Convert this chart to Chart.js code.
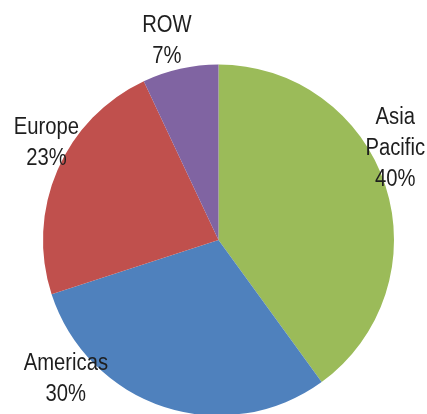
<!DOCTYPE html>
<html>
<head>
<meta charset="utf-8">
<script src="https://cdn.jsdelivr.net/npm/chart.js@4"></script>
<style>
  html, body { margin: 0; padding: 0; background: #fff; overflow: hidden; }
  #wrap { width: 427px; height: 430px; position: relative; }
</style>
</head>
<body>
<div id="wrap"><canvas id="chart-region"></canvas></div>
<script>
var regions = ["Asia\nPacific", "Americas", "Europe", "ROW"]
var share = [40, 30, 23, 7]
var colours = ["#9BBB59", "#4F81BD", "#C0504D", "#8064A2"]

// nudges for each label, away from the slice's mid-angle anchor
var labelNudge = [[-13, -30], [-91, -51], [11, -18], [-8, -4]]

// draws "Name\nNN%" outside each slice
var sliceLabels = {
	id: "sliceLabels",
	afterDatasetsDraw: function(chart) {
		var ctx = chart.ctx;
		var meta = chart.getDatasetMeta(0);
		ctx.save();
		ctx.fillStyle = "#1e1e1e";
		ctx.font = "23px 'Liberation Sans', Arial, sans-serif";
		ctx.textAlign = "center";
		ctx.textBaseline = "middle";
		meta.data.forEach(function(arc, i) {
			var p = arc.getProps(["x", "y", "startAngle", "endAngle", "outerRadius"], true);
			var mid = (p.startAngle + p.endAngle) / 2;
			var d = p.outerRadius + 24;
			var cx = p.x + Math.cos(mid) * d + labelNudge[i][0];
			var cy = p.y + Math.sin(mid) * d + labelNudge[i][1];
			var lines = regions[i].split("\n").concat([share[i] + "%"]);
			var step = 31;
			var top = cy - (lines.length - 1) * step / 2;
			lines.forEach(function(line, j) {
				ctx.save();
				ctx.translate(cx, top + j * step);
				ctx.scale(0.88, 1);
				ctx.fillText(line, 0, 0);
				ctx.restore();
			});
		});
		ctx.restore();
	}
};

var ctxRegion = document.getElementById("chart-region").getContext("2d");
var chartRegion = new Chart(ctxRegion, {
	type: "pie",
	data: {
		labels: regions,
		datasets: [
		{
			data: share,
			backgroundColor: colours,
			borderWidth: 0
		}
		]
	},
	options: {
		responsive: true,
		maintainAspectRatio: false,
		animation: false,
		layout: {
			padding: { left: 43, right: 33, top: 64, bottom: 14 }
		},
		plugins: {
			legend: { display: false },
			tooltip: { enabled: false }
		}
	},
	plugins: [sliceLabels]
});
</script>
</body>
</html>
